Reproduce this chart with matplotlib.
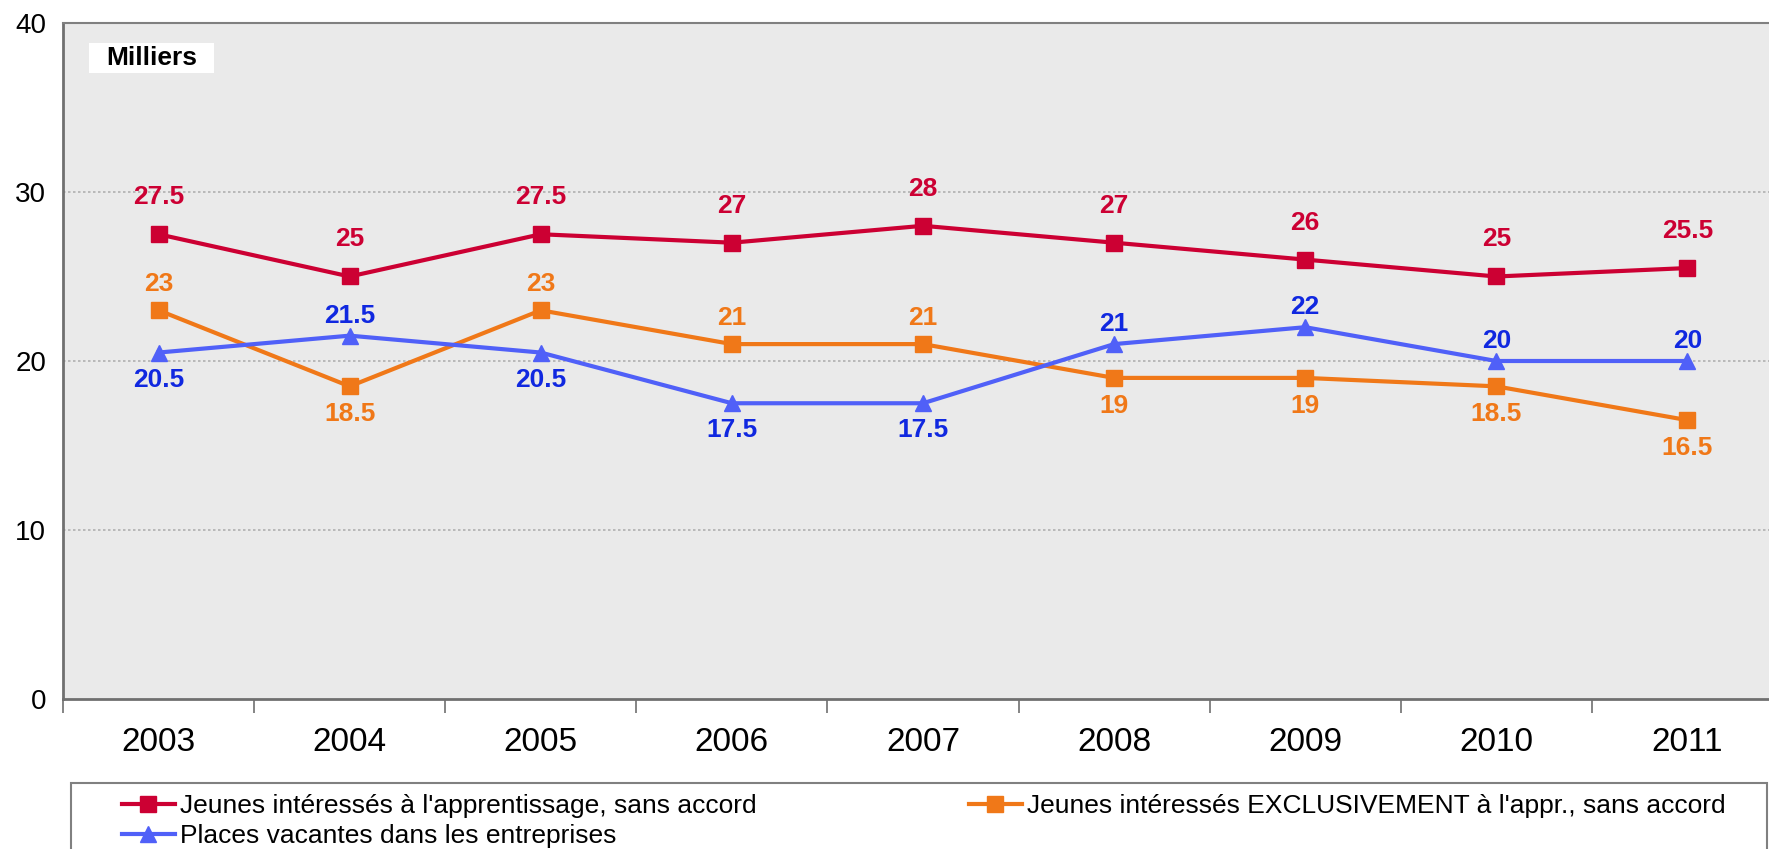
import matplotlib
matplotlib.use("Agg")
import matplotlib.pyplot as plt
from matplotlib.lines import Line2D
from matplotlib.patches import Rectangle

plt.rcParams['font.family'] = ['Liberation Sans', 'DejaVu Sans']

years = ["2003", "2004", "2005", "2006", "2007", "2008", "2009", "2010", "2011"]
jeunes = [27.5, 25, 27.5, 27, 28, 27, 26, 25, 25.5]
exclusifs = [23, 18.5, 23, 21, 21, 19, 19, 18.5, 16.5]
places = [20.5, 21.5, 20.5, 17.5, 17.5, 21, 22, 20, 20]
names = ["Jeunes intéressés à l'apprentissage, sans accord",
         "Jeunes intéressés EXCLUSIVEMENT à l'appr., sans accord",
         "Places vacantes dans les entreprises"]
unit_label = "Milliers"
yticks = [0, 10, 20, 30, 40]

# label placement: 'a' above, 'b' below
pos_jeunes = ['a'] * 9
pos_excl = ['a', 'b', 'a', 'a', 'a', 'b', 'b', 'b', 'b']
pos_places = ['b', 'a', 'b', 'b', 'b', 'a', 'a', 'a', 'a']

W, H = 1769, 849
fig = plt.figure(figsize=(W / 100, H / 100), dpi=100)
ax_l, ax_r, ax_t, ax_b = 63, 1783, 23, 699
ax = fig.add_axes([ax_l / W, 1 - ax_b / H, (ax_r - ax_l) / W, (ax_b - ax_t) / H])
ax.set_facecolor('#EAEAEA')

RED, ORANGE, BLUE, BLUE_TXT = '#CC0033', '#F07818', '#5060F8', '#1028E0'

x = list(range(len(years)))
series = [
    (jeunes, pos_jeunes, RED, RED, 's', 37, 37),
    (exclusifs, pos_excl, ORANGE, ORANGE, 's', 26, 28),
    (places, pos_places, BLUE, BLUE_TXT, '^', 20, 27),
]
for vals, pos, lc, tc, mk, up, down in series:
    ax.plot(x, vals, color=lc, lw=3, marker=mk, markersize=11, zorder=3)
    for xi, v, p in zip(x, vals, pos):
        off = up if p == 'a' else -down
        ax.annotate(f"{v:g}", (xi, v), xytext=(0, off * 0.72), textcoords='offset points',
                    ha='center', va='center', fontsize=19, fontweight='bold', color=tc, zorder=4)

ax.set_xlim(-0.5, len(years) - 0.5)
ax.set_ylim(0, 40)
ax.set_yticks(yticks)
ax.set_yticklabels([str(t) for t in yticks], fontsize=20)
ax.tick_params(axis='y', length=0, pad=12)
ax.set_xticks(x)
ax.set_xticklabels(years, fontsize=24)
ax.set_xticks([i - 0.5 for i in range(len(years) + 1)], minor=True)
ax.tick_params(axis='x', which='major', length=0, pad=20)
ax.tick_params(axis='x', which='minor', length=10, width=1.2, color='#707070')
for yv in [10, 20, 30]:
    ax.axhline(yv, color='#B0B0B0', lw=1.2, ls=(0, (1.5, 1.5)), zorder=1)
for s in ['left', 'bottom']:
    ax.spines[s].set_color('#707070')
    ax.spines[s].set_linewidth(2)
ax.spines['top'].set_color('#808080')
ax.spines['top'].set_linewidth(1.5)
ax.spines['right'].set_visible(False)

# "Milliers" box
fig.patches.append(Rectangle((89 / W, 1 - 73 / H), (214 - 89) / W, 30 / H,
                             transform=fig.transFigure, fc='white', ec='none', zorder=5))
fig.text(152 / W, 1 - 58 / H, unit_label, ha='center', va='center',
         fontsize=19, fontweight='bold', color='black', zorder=6)

# legend frame
fig.patches.append(Rectangle((71 / W, -0.05), (1767 - 71) / W, 0.05 + (849 - 783) / H,
                             transform=fig.transFigure, fc='white', ec='#808080', lw=1.5))

def handle(c, m):
    return Line2D([0], [0], color=c, lw=3, marker=m, markersize=11)

common = dict(loc='upper left', fontsize=19, frameon=False, handlelength=2.0,
              handletextpad=0.2, borderpad=0, labelspacing=0.22, borderaxespad=0)
leg1 = fig.legend([handle(RED, 's'), handle(BLUE, '^')], [names[0], names[2]],
                  bbox_to_anchor=(122 / W, 1 - 794 / H), **common)
leg2 = fig.legend([handle(ORANGE, 's')], [names[1]],
                  bbox_to_anchor=(969 / W, 1 - 794 / H), **common)

fig.savefig('out.png', dpi=100)
